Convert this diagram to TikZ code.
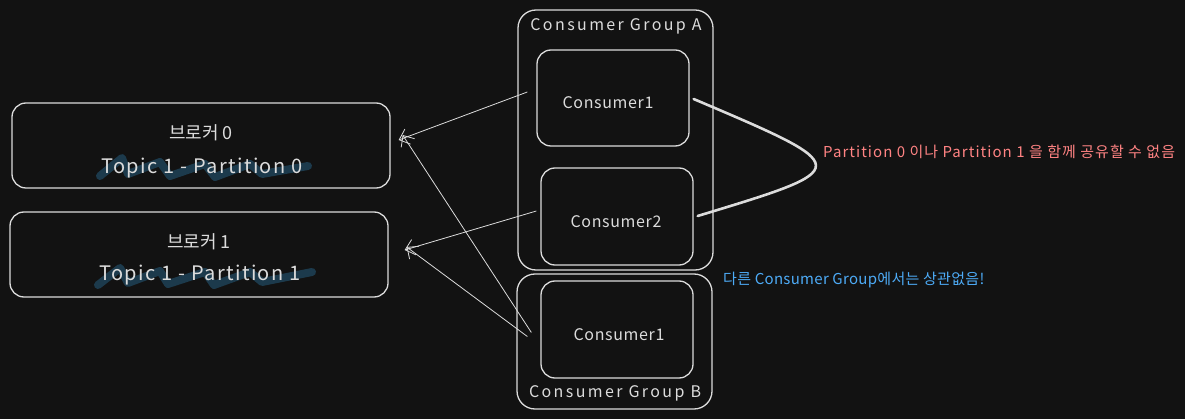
\documentclass[tikz,border=0pt]{standalone}
\usepackage{fontspec}
\setmainfont{Noto Sans CJK KR}
\newfontfamily\wideA[LetterSpace=7]{Noto Sans CJK KR}
\newfontfamily\wideB[LetterSpace=15]{Noto Sans CJK KR}
\newfontfamily\wideC[LetterSpace=4]{Noto Sans CJK KR}
\newfontfamily\wideD[LetterSpace=7]{Noto Sans CJK KR}
\newfontfamily\wideE[LetterSpace=2]{Noto Sans CJK KR}
\usetikzlibrary{arrows.meta}
\definecolor{bg}{HTML}{121212}
\definecolor{ink}{HTML}{DCDCDC}
\definecolor{hl}{HTML}{1C3A4C}
\definecolor{redtxt}{HTML}{FF8383}
\definecolor{bluetxt}{HTML}{4DABF7}
\tikzset{
  box/.style={draw=ink, line width=1.3pt, rounded corners=14pt, inner sep=0pt},
  txt/.style={text=ink, inner sep=0pt},
  conn/.style={draw=ink, line width=0.8pt, -{Straight Barb[length=9pt,width=16pt,line width=0.8pt]}},
  scrib/.style={draw=hl, line width=8pt, line cap=round, line join=round},
}
\begin{document}
\begin{tikzpicture}[x=1pt,y=-1pt]
\fill[bg] (0,0) rectangle (1185,419);
\useasboundingbox (0,0) rectangle (1185,419);

% highlight scribbles
\draw[scrib] (100,176) -- (122,158) -- (128,174) -- (160,162) -- (170,176) -- (205,164) -- (215,177) -- (250,164) -- (262,174) -- (308,166);
\draw[scrib] (98,285) -- (120,268) -- (128,283) -- (160,271) -- (168,284) -- (205,272) -- (214,285) -- (250,272) -- (262,282) -- (312,272);

% brokers
\node[box, minimum width=378pt, minimum height=85pt] (b0) at (201,145.5) {};
\node[box, minimum width=378pt, minimum height=85pt] (b1) at (199,254.5) {};
\node[txt, font=\fontsize{18}{20}\selectfont] (b0t) at (201,133) {브로커 0};
\node[txt, font=\wideA\fontsize{20}{22}\selectfont] (b0p) at (202,168) {Topic 1 - Partition 0};
\node[txt, font=\fontsize{18}{20}\selectfont] (b1t) at (199,242) {브로커 1};
\node[txt, font=\wideA\fontsize{20}{22}\selectfont] (b1p) at (200,275) {Topic 1 - Partition 1};

% groups
\node[box, rounded corners=18pt, minimum width=195pt, minimum height=260pt] (ga) at (615.5,140) {};
\node[box, rounded corners=18pt, minimum width=195pt, minimum height=135pt] (gb) at (614.5,341.5) {};
\node[txt, font=\wideB\fontsize{16}{18}\selectfont] (gal) at (616,26) {Consumer Group A};
\node[txt, font=\wideB\fontsize{16}{18}\selectfont] (gbl) at (615,393) {Consumer Group B};

% consumers
\node[box, minimum width=152pt, minimum height=96pt] (c1a) at (613,98) {};
\node[box, minimum width=152pt, minimum height=97pt] (c2a) at (617,216.5) {};
\node[box, minimum width=152pt, minimum height=97pt] (c1b) at (617,329.5) {};
\node[txt, font=\wideC\fontsize{16}{18}\selectfont] (c1at) at (608,103) {Consumer1};
\node[txt, font=\wideC\fontsize{16}{18}\selectfont] (c2at) at (616,222) {Consumer2};
\node[txt, font=\wideC\fontsize{16}{18}\selectfont] (c1bt) at (619,335) {Consumer1};

% arrows
\draw[conn] ([xshift=-9pt,yshift=6pt]c1a.west) -- ([xshift=8pt,yshift=5.5pt]b0.east);
\draw[conn] ([xshift=-4pt,yshift=5.5pt]c2a.west) -- ([xshift=16pt,yshift=4.5pt]b1.east);
\draw[conn] ([xshift=-9pt,yshift=-3pt]c1b.west) -- ([xshift=12pt,yshift=10.5pt]b0.east);
\draw[conn] ([xshift=-13pt,yshift=-7pt]c1b.west) -- ([xshift=18pt,yshift=7.5pt]b1.east);

% bracket
\draw[ink, line width=2.6pt, line cap=round] ([xshift=4pt,yshift=-1pt]c1a.east) .. controls (856,168) .. ([xshift=4pt,yshift=0.5pt]c2a.east);

% notes
\node[txt, text=redtxt, anchor=west, font=\wideD\fontsize{15}{17}\selectfont] (note1) at (823,152) {Partition 0 이나 Partition 1 을 함께 공유할 수 없음};
\node[txt, text=bluetxt, anchor=west, font=\wideE\fontsize{15}{17}\selectfont] (note2) at (723,280) {다른 Consumer Group에서는 상관없음!};
\end{tikzpicture}
\end{document}
